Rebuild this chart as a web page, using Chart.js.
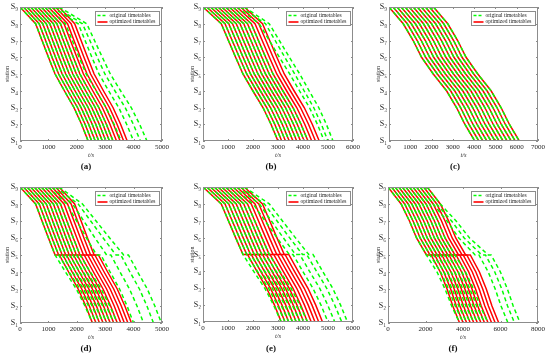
<!DOCTYPE html>
<html>
<head>
<meta charset="utf-8">
<script src="https://cdn.jsdelivr.net/npm/chart.js@4.4.0/dist/chart.umd.min.js"></script>
<style>
  body { margin: 0; background: #fff; width: 550px; height: 360px; position: relative; overflow: hidden; font-family: "Liberation Serif", serif; }
  canvas { position: absolute; }
  .lab { position: absolute; font-weight: bold; font-size: 9px; line-height: 9px; transform: translateX(-50%); color: #111; }
</style>
</head>
<body>
<canvas id="ca" width="180" height="178" style="left:0;top:0"></canvas>
<canvas id="cb" width="185" height="178" style="left:180px;top:0"></canvas>
<canvas id="cc" width="185" height="178" style="left:365px;top:0"></canvas>
<canvas id="cd" width="180" height="180" style="left:0;top:180px"></canvas>
<canvas id="ce" width="185" height="180" style="left:180px;top:180px"></canvas>
<canvas id="cf" width="185" height="180" style="left:365px;top:180px"></canvas>
<div class="lab" style="left:86px;top:162px">(a)</div>
<div class="lab" style="left:271px;top:162px">(b)</div>
<div class="lab" style="left:455px;top:162px">(c)</div>
<div class="lab" style="left:86px;top:344px">(d)</div>
<div class="lab" style="left:271px;top:344px">(e)</div>
<div class="lab" style="left:453px;top:344px">(f)</div>
<script>
// station tick labels S1..S9 (index = station number)
var sub = ['', '₁', '₂', '₃', '₄', '₅', '₆', '₇', '₈', '₉'];

// ---- (a) ----
var depA   = [0,125,250,375,500,625,750,875,1000,1125,1250,1375];
var optS8A = [550,675,800,925,1050,1175,1300,1425,1550,1675,1800,1925];
var optS5A = [1235,1360,1485,1610,1735,1860,1985,2110,2235,2360,2485,2610];
var optS1A = [2400,2525,2650,2775,2900,3025,3150,3275,3400,3525,3650,3775];
var orgS8A = [550,675,800,925,1050,1175,1300,1425,1600,2050,2200,2350];
var orgS5A = [1235,1360,1485,1610,1735,1860,1985,2110,2330,2780,2990,3180];
var orgS1A = [2400,2525,2650,2775,2900,3025,3150,3275,3560,4000,4240,4470];
var shapeA = [0.33,0.66,0.28,0.57,0.8];

// ---- (b) ----
var depB   = [0,150,300,450,600,750,900,1050,1200,1350,1500,1650];
var optS8B = [730,880,1030,1180,1330,1480,1630,1780,1930,2080,2230,2380];
var optS5B = [1600,1750,1900,2050,2200,2350,2500,2650,2800,2950,3100,3250];
var optS1B = [3000,3150,3300,3450,3600,3750,3900,4050,4200,4350,4500,4650];
var orgS8B = [730,880,1030,1180,1330,1480,1630,1780,1930,2250,2500,2650];
var orgS5B = [1600,1750,1900,2050,2200,2350,2500,2650,2800,3470,3670,3870];
var orgS1B = [3000,3150,3300,3450,3600,3750,3900,4050,4200,4850,5000,5200];
var shapeB = [0.33,0.66,0.28,0.57,0.8];

// ---- (c) ----
var depC   = [0,190,380,570,760,950,1140,1330,1520,1710,1900,2090];
var optS8C = [670,860,1050,1240,1430,1620,1810,2000,2190,2380,2570,2760];
var optS5C = [2080,2270,2460,2650,2840,3030,3220,3410,3600,3790,3980,4170];
var optS1C = [4030,4220,4410,4600,4790,4980,5170,5360,5550,5740,5930,6120];
var orgS8C = [670,860,1050,1240,1430,1620,1810,2000,2190,2380,2570,2760];
var orgS5C = [2080,2270,2460,2650,2840,3030,3220,3410,3600,3790,3980,4170];
var orgS1C = [4030,4220,4410,4600,4790,4980,5170,5360,5550,5740,5930,6120];
var shapeC = [0.33,0.61,0.32,0.56,0.76];

// ---- (d) ---- (S5 arrival / S5 departure after the hold)
var depD      = [0,125,250,375,500,625,750,875,1000,1125,1250,1375];
var optS8D    = [550,675,800,925,1050,1175,1300,1425,1550,1675,1800,1925];
var optS5D    = [1235,1360,1485,1610,1735,1860,1985,2110,2235,2360,2485,2610];
var optS5outD = [1385,1510,1635,1760,1885,2010,2135,2260,2385,2510,2635,2760];
var optS1D    = [2550,2675,2800,2925,3050,3175,3300,3425,3550,3675,3800,3925];
var orgS8D    = [550,675,800,925,1050,1175,1300,1425,1650,1850,2050,2200];
var orgS5D    = [1235,1360,1485,1610,1735,1860,1985,2110,2700,3050,3380,3650];
var orgS5outD = [1235,1360,1485,1610,1735,1860,1985,2110,2850,3200,3550,3820];
var orgS1D    = [2550,2675,2800,2925,3050,3175,3300,3425,4000,4350,4700,4980];

// ---- (e) ----
var depE      = [0,150,300,450,600,750,900,1050,1200,1350,1500,1650];
var optS8E    = [730,880,1030,1180,1330,1480,1630,1780,1930,2080,2230,2380];
var optS5E    = [1600,1750,1900,2050,2200,2350,2500,2650,2800,2950,3100,3250];
var optS5outE = [1780,1930,2080,2230,2380,2530,2680,2830,2980,3130,3280,3430];
var optS1E    = [3130,3280,3430,3580,3730,3880,4030,4180,4330,4480,4630,4780];
var orgS8E    = [730,880,1030,1180,1330,1480,1630,1780,2000,2250,2450,2650];
var orgS5E    = [1600,1750,1900,2050,2200,2350,2500,2650,3450,3700,3980,4230];
var orgS5outE = [1600,1750,1900,2050,2200,2350,2500,2650,3600,3870,4150,4400];
var orgS1E    = [3130,3280,3430,3580,3730,3880,4030,4180,5000,5270,5550,5780];

// ---- (f) ----
var depF      = [0,190,380,570,760,950,1140,1330,1520,1710,1900,2090];
var optS8F    = [700,890,1080,1270,1460,1650,1840,2030,2220,2410,2600,2790];
var optS5F    = [2050,2240,2430,2620,2810,3000,3190,3380,3570,3760,3950,4140];
var optS5outF = [2300,2490,2680,2870,3060,3250,3440,3630,3820,4010,4200,4390];
var optS1F    = [3820,4010,4200,4390,4580,4770,4960,5150,5340,5530,5720,5910];
var orgS8F    = [700,890,1080,1270,1460,1650,1840,2030,2220,2410,2600,2790];
var orgS5F    = [2050,2240,2430,2620,2810,3000,3190,3380,3570,4650,5000,5350];
var orgS5outF = [2050,2240,2430,2620,2810,3000,3190,3380,3570,4850,5200,5500];
var orgS1F    = [3820,4010,4200,4390,4580,4770,4960,5150,5340,6400,6750,7050];

var FONT = '"Liberation Serif", "Times New Roman", serif';
var GREEN = '#00ff00';
var RED = '#ff0000';

function buildTrip(dep, s8, s5, s5o, s1, shape) {
    var pts = [{x: dep, y: 9}, {x: s8, y: 8}];
    pts.push({x: s8 + shape[0] * (s5 - s8), y: 7});
    pts.push({x: s8 + shape[1] * (s5 - s8), y: 6});
    pts.push({x: s5, y: 5});
    if (s5o != s5) pts.push({x: s5o, y: 5});
    pts.push({x: s5o + shape[2] * (s1 - s5o), y: 4});
    pts.push({x: s5o + shape[3] * (s1 - s5o), y: 3});
    pts.push({x: s5o + shape[4] * (s1 - s5o), y: 2});
    pts.push({x: s1, y: 1});
    return pts;
}

// frame, inward ticks and the boxed legend, matlab style
var framePlugin = {
    id: 'frame',
    afterDatasetsDraw: function(chart) {
        var ctx = chart.ctx, a = chart.chartArea;
        var sx = chart.scales.x, sy = chart.scales.y;
        ctx.save();
        ctx.strokeStyle = '#8c8c8c';
        ctx.lineWidth = 1;
        ctx.strokeRect(Math.round(a.left) + 0.5, Math.round(a.top) + 0.5,
                       Math.round(a.right - a.left) - 1, Math.round(a.bottom - a.top) - 1);
        ctx.beginPath();
        sx.ticks.forEach(function(t) {
            var px = Math.round(sx.getPixelForValue(t.value)) + 0.5;
            ctx.moveTo(px, a.bottom); ctx.lineTo(px, a.bottom - 2);
            ctx.moveTo(px, a.top); ctx.lineTo(px, a.top + 2);
        });
        sy.ticks.forEach(function(t) {
            var py = Math.round(sy.getPixelForValue(t.value)) + 0.5;
            ctx.moveTo(a.left, py); ctx.lineTo(a.left + 2, py);
            ctx.moveTo(a.right, py); ctx.lineTo(a.right - 2, py);
        });
        ctx.stroke();

        // legend box
        var w = 64, h = 14;
        var bx = Math.round(a.right - 3 - w) + 0.5, by = Math.round(a.top + 4) + 0.5;
        ctx.fillStyle = '#fff';
        ctx.fillRect(bx, by, w, h);
        ctx.strokeStyle = '#8c8c8c';
        ctx.strokeRect(bx, by, w, h);
        ctx.lineWidth = 1.6;
        ctx.strokeStyle = GREEN;
        ctx.setLineDash([3, 2]);
        ctx.beginPath(); ctx.moveTo(bx + 2, by + 4); ctx.lineTo(bx + 12, by + 4); ctx.stroke();
        ctx.setLineDash([]);
        ctx.strokeStyle = RED;
        ctx.beginPath(); ctx.moveTo(bx + 2, by + 10.5); ctx.lineTo(bx + 12, by + 10.5); ctx.stroke();
        ctx.fillStyle = '#222';
        ctx.font = '5.5px ' + FONT;
        ctx.textBaseline = 'middle';
        ctx.fillText('original timetables', bx + 14, by + 4);
        ctx.fillText('optimized timetables', bx + 14, by + 10.5);
        ctx.restore();
    }
};

function makePanel(id, box, canvasLeft, canvasTop, cw, chh, xMax, xStep, yTitlePad, dep, opt, org, shape) {
    var datasets = [];
    for (var i = 0; i < dep.length; i++) {
        datasets.push({
            label: 'original timetables',
            data: buildTrip(dep[i], org[0][i], org[1][i], org[2][i], org[3][i], shape),
            borderColor: GREEN, borderDash: [4, 3], borderWidth: 1.5,
            pointRadius: 0, fill: false, tension: 0
        });
    }
    for (var j = 0; j < dep.length; j++) {
        datasets.push({
            label: 'optimized timetables',
            data: buildTrip(dep[j], opt[0][j], opt[1][j], opt[2][j], opt[3][j], shape),
            borderColor: RED, borderWidth: 1.5,
            pointRadius: 0, fill: false, tension: 0
        });
    }
    var xH = 18;
    var yW = box[0] - canvasLeft;
    var padT = box[1] - canvasTop;
    var padR = canvasLeft + cw - box[2];
    var padB = canvasTop + chh - box[3] - xH;
    var ctx = document.getElementById(id).getContext('2d');
    return new Chart(ctx, {
        type: 'line',
        data: {datasets: datasets},
        plugins: [framePlugin],
        options: {
            responsive: false, animation: false, devicePixelRatio: 1, events: [],
            layout: {padding: {left: 0, top: padT, right: padR, bottom: padB}},
            plugins: {legend: {display: false}, tooltip: {enabled: false}},
            scales: {
                x: {
                    type: 'linear', min: 0, max: xMax,
                    afterFit: function(s) { s.height = xH; },
                    grid: {display: false, drawTicks: false}, border: {display: false},
                    ticks: {stepSize: xStep, padding: 2, color: '#222', maxRotation: 0, autoSkip: false,
                            font: {family: FONT, size: 7}, callback: function(v) { return String(v); }},
                    title: {display: true, text: 't/s', color: '#333', padding: 0,
                            font: {family: FONT, size: 6.5, style: 'italic'}}
                },
                y: {
                    type: 'linear', min: 1, max: 9,
                    afterFit: function(s) { s.width = yW; },
                    grid: {display: false, drawTicks: false}, border: {display: false},
                    ticks: {stepSize: 1, padding: 2, color: '#222', autoSkip: false,
                            font: {family: FONT, size: 8}, callback: function(v) { return 'S' + sub[v]; }},
                    title: {display: true, text: 'station', color: '#333', padding: {top: yTitlePad, bottom: 0},
                            font: {family: FONT, size: 6}}
                }
            }
        }
    });
}

makePanel('ca', [20, 7, 162, 141], 0, 0, 180, 178, 5000, 1000, 3.4, depA,
          [optS8A, optS5A, optS5A, optS1A], [orgS8A, orgS5A, orgS5A, orgS1A], shapeA);
makePanel('cb', [203, 7, 353, 141], 180, 0, 185, 178, 6000, 1000, 8.4, depB,
          [optS8B, optS5B, optS5B, optS1B], [orgS8B, orgS5B, orgS5B, orgS1B], shapeB);
makePanel('cc', [389, 7, 538, 141], 365, 0, 185, 178, 7000, 1000, 9.4, depC,
          [optS8C, optS5C, optS5C, optS1C], [orgS8C, orgS5C, orgS5C, orgS1C], shapeC);
makePanel('cd', [20, 187, 162, 323], 0, 180, 180, 180, 5000, 1000, 3.4, depD,
          [optS8D, optS5D, optS5outD, optS1D], [orgS8D, orgS5D, orgS5outD, orgS1D], shapeA);
makePanel('ce', [203, 187, 353, 322], 180, 180, 185, 180, 6000, 1000, 8.4, depE,
          [optS8E, optS5E, optS5outE, optS1E], [orgS8E, orgS5E, orgS5outE, orgS1E], shapeB);
makePanel('cf', [388, 187, 538, 323], 365, 180, 185, 180, 8000, 2000, 9.4, depF,
          [optS8F, optS5F, optS5outF, optS1F], [orgS8F, orgS5F, orgS5outF, orgS1F], shapeC);
</script>
</body>
</html>
